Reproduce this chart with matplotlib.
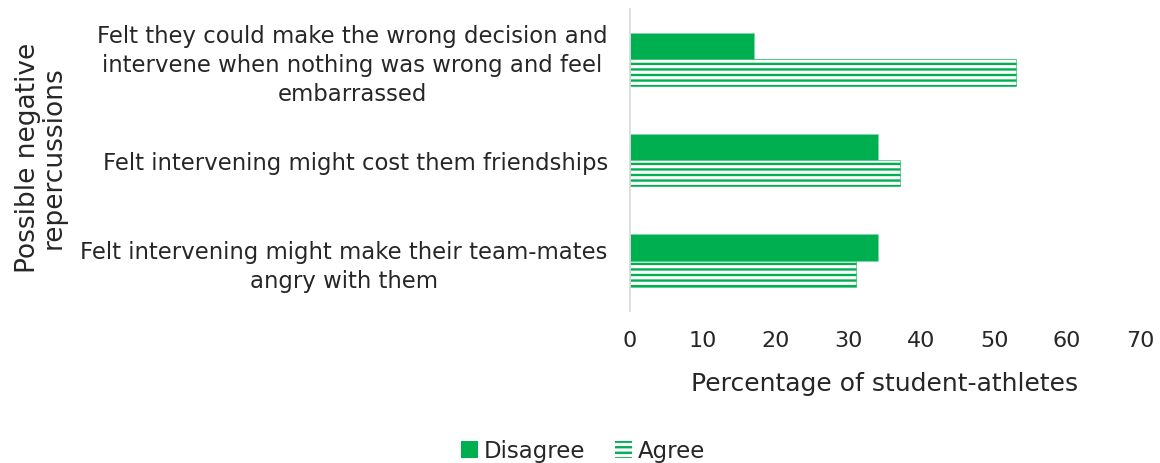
import matplotlib
matplotlib.use("Agg")
import matplotlib.pyplot as plt
from matplotlib.patches import Patch
import numpy as np

categories = [
    "Felt they could make the wrong decision and\nintervene when nothing was wrong and feel\nembarrassed",
    "Felt intervening might cost them friendships",
    "Felt intervening might make their team-mates\nangry with them",
]
disagree = [17, 34, 34]
agree = [53, 37, 31]
x_ticks = [0, 10, 20, 30, 40, 50, 60, 70]

GREEN = "#00B050"
TEXT = "#262626"

plt.rcParams["font.family"] = ["DejaVu Sans"]
plt.rcParams["hatch.linewidth"] = 1.7

fig = plt.figure(figsize=(11.6, 4.64), dpi=100)
ax = fig.add_axes([630 / 1160, 1 - 312 / 464, 510 / 1160, 302 / 464])

y = np.arange(len(categories))
h = 0.26
ax.barh(y - h / 2, disagree, height=h, color=GREEN, edgecolor="#7FD7A7",
        linewidth=0.6)
ax.barh(y + h / 2, agree, height=h, facecolor="white", edgecolor=GREEN,
        hatch="---", linewidth=0.4)

ax.set_ylim(len(categories) - 0.5, -0.5)
ax.set_xlim(0, 70)
ax.set_xticks(x_ticks)
ax.set_xticklabels([str(t) for t in x_ticks], fontsize=16, color=TEXT)
ax.set_yticks(y)
ax.set_yticklabels(categories, fontsize=16.4, color=TEXT, ha="right",
                   multialignment="center", linespacing=1.32)
ax.tick_params(axis="both", length=0)
ax.tick_params(axis="x", pad=14)
ax.tick_params(axis="y", pad=16)

for side in ["top", "right", "bottom"]:
    ax.spines[side].set_visible(False)
ax.spines["left"].set_color("#D9D9D9")
ax.spines["left"].set_linewidth(1.2)

ax.set_xlabel("Percentage of student-athletes", fontsize=18, color=TEXT,
              labelpad=15)
fig.text(41 / 1160, 1 - 158 / 464, "Possible negative\nrepercussions",
         rotation=90, ha="center", va="center", fontsize=19, color=TEXT,
         multialignment="center", linespacing=0.95)

handles = [
    Patch(facecolor=GREEN, edgecolor=GREEN, linewidth=0, label="Disagree"),
    Patch(facecolor="white", edgecolor=GREEN, hatch="---", linewidth=0,
          label="Agree"),
]
leg = fig.legend(handles=handles, loc="center",
                 bbox_to_anchor=(583 / 1160, 1 - 452 / 464),
                 ncol=2, frameon=False, fontsize=16.5, handlelength=0.75,
                 handleheight=0.75, handletextpad=0.25, columnspacing=1.3)
for t in leg.get_texts():
    t.set_color(TEXT)

fig.savefig("out.png", dpi=100, facecolor="white")
